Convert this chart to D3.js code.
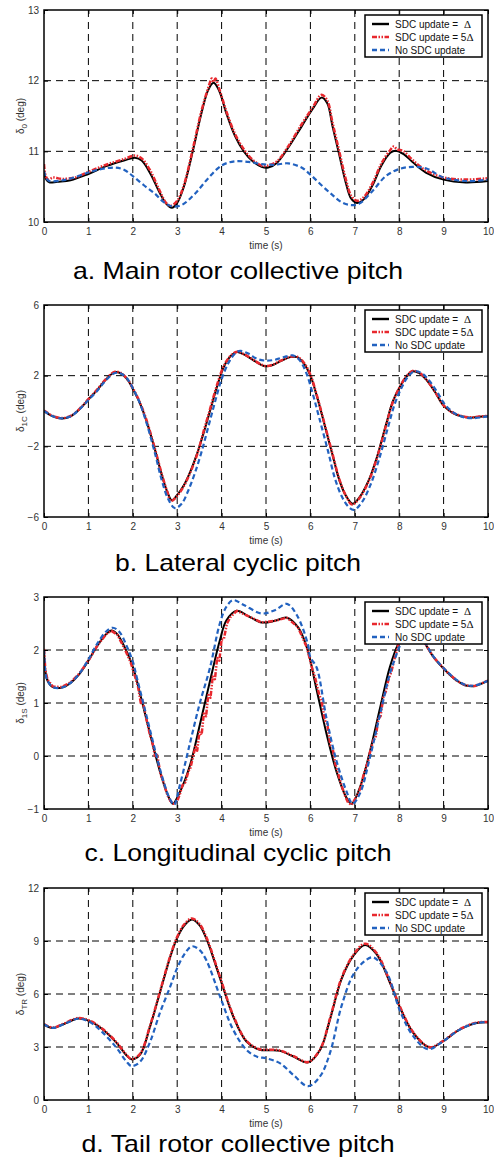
<!DOCTYPE html>
<html>
<head>
<meta charset="utf-8">
<script src="https://cdn.jsdelivr.net/npm/d3@7"></script>
<style>
  body { margin: 0; background: #fff; }
  svg { display: block; font-family: "Liberation Sans", Arial, sans-serif; }
</style>
</head>
<body>
<script>
// --- data: [time (s), angle (deg)] ---
const timeTicks = [0, 1, 2, 3, 4, 5, 6, 7, 8, 9, 10];
const legendLabels = ["SDC update = ", "SDC update = 5", "No SDC update"];

// a. main rotor collective
const aTicks = [10, 11, 12, 13];
const aBlack = [[0,10.72],[0.05,10.6],[0.12,10.56],[0.3,10.57],[0.6,10.59],[1,10.68],[1.4,10.79],[1.8,10.87],[2.05,10.91],[2.2,10.87],[2.4,10.68],[2.6,10.42],[2.75,10.26],[2.88,10.2],[3.0,10.27],[3.15,10.5],[3.35,11.0],[3.55,11.55],[3.7,11.87],[3.82,11.97],[3.95,11.85],[4.1,11.55],[4.3,11.22],[4.5,11.0],[4.7,10.86],[4.9,10.78],[5.05,10.77],[5.25,10.84],[5.5,11.05],[5.8,11.35],[6.05,11.6],[6.25,11.76],[6.38,11.68],[6.5,11.35],[6.65,10.95],[6.8,10.55],[6.92,10.33],[7.05,10.27],[7.2,10.32],[7.4,10.52],[7.6,10.8],[7.8,10.98],[7.92,11.01],[8.1,10.96],[8.3,10.85],[8.6,10.7],[9.0,10.6],[9.5,10.56],[10,10.58]];
const aRed = [[0,10.82],[0.04,10.65],[0.1,10.6],[0.2,10.63],[0.4,10.61],[0.7,10.63],[1,10.71],[1.4,10.81],[1.8,10.89],[2.05,10.94],[2.2,10.9],[2.4,10.72],[2.6,10.45],[2.75,10.27],[2.85,10.23],[3.0,10.3],[3.15,10.52],[3.35,11.03],[3.55,11.58],[3.7,11.9],[3.78,12.03],[3.82,11.98],[3.86,12.03],[3.95,11.88],[4.1,11.58],[4.3,11.25],[4.5,11.03],[4.7,10.88],[4.9,10.8],[5.05,10.8],[5.25,10.86],[5.5,11.07],[5.8,11.38],[6.05,11.62],[6.25,11.8],[6.38,11.72],[6.5,11.4],[6.65,11.0],[6.8,10.6],[6.92,10.37],[7.05,10.3],[7.2,10.35],[7.4,10.55],[7.6,10.83],[7.8,11.02],[7.88,11.07],[7.95,11.03],[8.1,11.0],[8.3,10.88],[8.6,10.73],[9.0,10.63],[9.5,10.6],[10,10.62]];
const aBlue = [[0,10.72],[0.05,10.62],[0.12,10.58],[0.5,10.6],[1,10.7],[1.3,10.75],[1.6,10.77],[1.8,10.74],[2.0,10.65],[2.25,10.52],[2.5,10.4],[2.7,10.28],[2.9,10.22],[3.1,10.24],[3.4,10.4],[3.7,10.62],[4.0,10.8],[4.3,10.86],[4.6,10.85],[4.9,10.82],[5.2,10.81],[5.5,10.83],[5.8,10.77],[6.0,10.67],[6.25,10.52],[6.5,10.38],[6.7,10.28],[6.9,10.24],[7.1,10.26],[7.4,10.44],[7.7,10.65],[8.0,10.75],[8.3,10.78],[8.6,10.76],[9.0,10.63],[9.5,10.58],[10,10.6]];

// b. lateral cyclic
const bTicks = [-6, -2, 2, 6];
const bBlack = [[0,0.0],[0.2,-0.3],[0.4,-0.42],[0.6,-0.3],[0.8,0.1],[1.0,0.65],[1.2,1.2],[1.4,1.8],[1.6,2.2],[1.75,2.1],[1.9,1.7],[2.0,1.25],[2.15,0.5],[2.3,-0.5],[2.5,-2.2],[2.65,-3.6],[2.78,-4.6],[2.88,-5.05],[3.0,-4.75],[3.15,-4.2],[3.3,-3.4],[3.45,-2.4],[3.6,-1.2],[3.75,0.1],[3.9,1.4],[4.05,2.5],[4.2,3.1],[4.35,3.34],[4.5,3.2],[4.7,2.9],[4.9,2.6],[5.0,2.53],[5.15,2.6],[5.35,2.85],[5.55,3.05],[5.7,3.05],[5.85,2.7],[6.0,2.0],[6.15,0.8],[6.3,-0.6],[6.5,-2.5],[6.65,-3.9],[6.8,-4.8],[6.95,-5.25],[7.1,-4.9],[7.3,-4.0],[7.5,-2.6],[7.7,-0.8],[7.85,0.5],[8.0,1.3],[8.15,1.9],[8.3,2.25],[8.45,2.15],[8.6,1.8],[8.8,1.1],[9.0,0.3],[9.2,-0.1],[9.4,-0.3],[9.6,-0.38],[9.8,-0.33],[10,-0.3]];
const bRed = [[0,0.02],[0.2,-0.28],[0.4,-0.4],[0.6,-0.28],[0.8,0.12],[1.0,0.67],[1.2,1.22],[1.4,1.82],[1.6,2.22],[1.75,2.12],[1.9,1.72],[2.0,1.3],[2.15,0.55],[2.3,-0.45],[2.5,-2.15],[2.65,-3.55],[2.78,-4.6],[2.86,-5.1],[3.0,-4.8],[3.15,-4.25],[3.3,-3.45],[3.45,-2.45],[3.6,-1.1],[3.75,0.2],[3.9,1.5],[4.05,2.55],[4.2,3.12],[4.35,3.36],[4.5,3.22],[4.7,2.92],[4.9,2.62],[5.0,2.55],[5.15,2.62],[5.35,2.87],[5.55,3.07],[5.7,3.07],[5.85,2.75],[6.0,2.05],[6.15,0.85],[6.3,-0.55],[6.5,-2.45],[6.65,-3.85],[6.8,-4.8],[6.94,-5.3],[7.1,-4.95],[7.3,-4.05],[7.5,-2.65],[7.7,-0.85],[7.85,0.45],[8.0,1.3],[8.15,1.92],[8.3,2.27],[8.45,2.17],[8.6,1.82],[8.8,1.12],[9.0,0.32],[9.2,-0.08],[9.4,-0.28],[9.6,-0.36],[9.8,-0.31],[10,-0.28]];
const bBlue = [[0,0.0],[0.2,-0.3],[0.4,-0.42],[0.6,-0.3],[0.8,0.1],[1.0,0.62],[1.2,1.15],[1.4,1.75],[1.6,2.15],[1.75,2.1],[1.9,1.75],[2.0,1.3],[2.15,0.5],[2.3,-0.6],[2.5,-2.4],[2.65,-3.9],[2.8,-5.0],[2.95,-5.5],[3.1,-5.25],[3.25,-4.5],[3.4,-3.5],[3.55,-2.3],[3.7,-0.9],[3.85,0.5],[4.0,1.8],[4.15,2.7],[4.3,3.25],[4.42,3.4],[4.6,3.25],[4.8,2.95],[5.0,2.85],[5.2,2.9],[5.4,3.05],[5.6,3.15],[5.75,2.9],[5.9,2.2],[6.05,1.0],[6.2,-0.4],[6.4,-2.3],[6.55,-3.8],[6.7,-4.8],[6.85,-5.4],[6.98,-5.6],[7.15,-5.2],[7.35,-4.2],[7.55,-2.7],[7.75,-0.9],[7.9,0.4],[8.05,1.3],[8.2,1.95],[8.35,2.25],[8.5,2.15],[8.65,1.8],[8.85,1.1],[9.05,0.3],[9.3,-0.2],[9.5,-0.38],[9.7,-0.4],[10,-0.3]];

// c. longitudinal cyclic
const cTicks = [-1, 0, 1, 2, 3];
const cBlack = [[0,2.0],[0.03,1.6],[0.08,1.42],[0.2,1.3],[0.4,1.29],[0.6,1.38],[0.8,1.55],[1.0,1.8],[1.2,2.08],[1.4,2.3],[1.52,2.37],[1.65,2.3],[1.8,2.08],[1.95,1.8],[2.05,1.55],[2.2,1.05],[2.35,0.55],[2.5,0.05],[2.65,-0.4],[2.78,-0.72],[2.9,-0.9],[3.06,-0.68],[3.29,-0.17],[3.51,0.59],[3.74,1.42],[3.96,2.18],[4.11,2.56],[4.34,2.74],[4.6,2.64],[4.9,2.52],[5.2,2.55],[5.47,2.61],[5.72,2.43],[5.92,2.05],[6.14,1.25],[6.36,0.43],[6.59,-0.3],[6.82,-0.8],[6.93,-0.9],[7.12,-0.58],[7.34,0.08],[7.57,0.91],[7.79,1.68],[7.98,2.12],[8.15,2.35],[8.3,2.42],[8.45,2.3],[8.6,2.1],[8.77,1.87],[9.07,1.59],[9.3,1.42],[9.5,1.33],[9.7,1.32],[10,1.42]];
const cRed = [[0,2.02],[0.03,1.62],[0.08,1.44],[0.2,1.31],[0.4,1.3],[0.6,1.39],[0.8,1.56],[1.0,1.8],[1.2,2.08],[1.4,2.3],[1.52,2.36],[1.65,2.29],[1.8,2.05],[1.95,1.77],[2.05,1.5],[2.12,1.3],[2.18,1.0],[2.22,1.05],[2.3,0.72],[2.38,0.42],[2.45,0.22],[2.5,0.0],[2.55,0.02],[2.62,-0.32],[2.7,-0.52],[2.78,-0.74],[2.85,-0.85],[2.92,-0.9],[3.0,-0.85],[3.06,-0.72],[3.12,-0.55],[3.18,-0.5],[3.25,-0.3],[3.3,-0.22],[3.36,0.0],[3.42,0.2],[3.45,0.1],[3.5,0.45],[3.55,0.4],[3.6,0.8],[3.65,0.75],[3.7,1.15],[3.75,1.1],[3.8,1.5],[3.85,1.45],[3.9,1.85],[3.95,1.8],[4.0,2.2],[4.05,2.2],[4.12,2.5],[4.2,2.62],[4.34,2.74],[4.6,2.64],[4.9,2.52],[5.2,2.55],[5.47,2.61],[5.72,2.43],[5.92,2.05],[6.05,1.62],[6.1,1.5],[6.2,1.15],[6.25,1.05],[6.32,0.68],[6.38,0.6],[6.45,0.2],[6.5,0.15],[6.56,-0.15],[6.62,-0.32],[6.7,-0.55],[6.78,-0.75],[6.85,-0.88],[6.93,-0.92],[7.05,-0.75],[7.12,-0.62],[7.2,-0.35],[7.25,-0.22],[7.3,-0.1],[7.35,0.1],[7.42,0.3],[7.47,0.35],[7.53,0.7],[7.58,0.75],[7.64,1.1],[7.7,1.22],[7.76,1.45],[7.82,1.58],[7.9,1.85],[7.98,2.1],[8.15,2.35],[8.3,2.42],[8.45,2.3],[8.6,2.1],[8.77,1.87],[9.07,1.59],[9.3,1.42],[9.5,1.33],[9.7,1.32],[10,1.42]];
const cBlue = [[0,2.0],[0.03,1.6],[0.08,1.42],[0.2,1.3],[0.4,1.29],[0.6,1.38],[0.8,1.56],[1.0,1.82],[1.2,2.12],[1.4,2.35],[1.55,2.42],[1.7,2.34],[1.85,2.1],[2.0,1.78],[2.1,1.45],[2.25,0.95],[2.4,0.45],[2.55,-0.05],[2.7,-0.5],[2.83,-0.8],[2.93,-0.92],[3.06,-0.55],[3.29,0.25],[3.51,1.0],[3.74,1.67],[3.96,2.5],[4.11,2.82],[4.26,2.94],[4.5,2.85],[4.9,2.69],[5.2,2.75],[5.47,2.87],[5.7,2.65],[5.94,2.12],[6.0,1.86],[6.14,1.67],[6.36,0.72],[6.59,-0.1],[6.82,-0.68],[6.95,-0.9],[7.12,-0.7],[7.34,-0.03],[7.57,0.79],[7.79,1.55],[8.0,2.05],[8.15,2.35],[8.3,2.44],[8.45,2.32],[8.6,2.12],[8.77,1.88],[9.07,1.6],[9.3,1.43],[9.5,1.34],[9.7,1.33],[10,1.42]];

// d. tail rotor collective
const dTicks = [0, 3, 6, 9, 12];
const dBlack = [[0,4.27],[0.2,4.08],[0.45,4.3],[0.77,4.61],[1.04,4.45],[1.33,3.98],[1.64,3.22],[1.85,2.55],[1.97,2.3],[2.16,2.55],[2.39,4.17],[2.61,6.07],[2.84,8.07],[2.99,9.12],[3.15,9.85],[3.33,10.21],[3.5,9.9],[3.66,9.12],[3.96,6.93],[4.26,4.74],[4.56,3.31],[4.86,2.84],[5.1,2.82],[5.32,2.78],[5.62,2.46],[5.95,2.13],[6.22,2.84],[6.44,4.55],[6.7,6.84],[6.97,8.17],[7.23,8.78],[7.49,8.26],[7.79,6.65],[8.02,5.22],[8.32,3.79],[8.69,2.97],[8.99,3.33],[9.36,3.98],[9.74,4.36],[10,4.4]];
const dRed = [[0,4.3],[0.2,4.1],[0.45,4.33],[0.77,4.64],[1.04,4.48],[1.33,4.0],[1.64,3.25],[1.85,2.58],[1.97,2.32],[2.16,2.6],[2.39,4.22],[2.61,6.12],[2.84,8.12],[2.99,9.18],[3.15,9.92],[3.33,10.28],[3.5,9.97],[3.66,9.2],[3.96,7.0],[4.26,4.8],[4.56,3.35],[4.86,2.87],[5.1,2.85],[5.32,2.8],[5.62,2.48],[5.95,2.15],[6.22,2.88],[6.44,4.6],[6.7,6.9],[6.97,8.22],[7.23,8.85],[7.49,8.32],[7.79,6.7],[8.02,5.27],[8.32,3.82],[8.69,2.99],[8.99,3.35],[9.36,4.0],[9.74,4.38],[10,4.42]];
const dBlue = [[0,4.27],[0.2,4.08],[0.45,4.3],[0.77,4.6],[1.04,4.4],[1.33,3.8],[1.64,2.93],[1.85,2.2],[1.97,1.92],[2.16,2.15],[2.39,3.3],[2.61,4.93],[2.84,6.4],[2.99,7.41],[3.15,8.2],[3.33,8.7],[3.5,8.5],[3.66,7.89],[3.96,5.89],[4.26,3.98],[4.56,2.84],[4.8,2.45],[5.01,2.36],[5.32,2.07],[5.62,1.41],[5.95,0.78],[6.22,1.35],[6.44,2.65],[6.7,5.31],[6.97,7.12],[7.23,7.88],[7.42,8.07],[7.72,7.21],[8.02,5.03],[8.32,3.6],[8.65,2.87],[8.99,3.33],[9.36,3.98],[9.74,4.36],[10,4.4]];

// --- layout ---
const W = 494, H = 1157;
const left = 44, right = 488, ph = 212;

const panels = [
  { top: 10,  ticks: aTicks, sub: "0",  series: [aBlack, aRed, aBlue], title: "a. Main rotor collective pitch", titleY: 279, titleW: 330 },
  { top: 305, ticks: bTicks, sub: "1C", series: [bBlack, bRed, bBlue], title: "b. Lateral cyclic pitch", titleY: 571, titleW: 246 },
  { top: 597, ticks: cTicks, sub: "1S", series: [cBlack, cRed, cBlue], title: "c. Longitudinal cyclic pitch", titleY: 861, titleW: 307 },
  { top: 888, ticks: dTicks, sub: "TR", series: [dBlack, dRed, dBlue], title: "d. Tail rotor collective pitch", titleY: 1152, titleW: 313 }
];

const styles = [
  { color: "#000000", width: 2,   dash: null },
  { color: "#e8282e", width: 2.5, dash: "5,1.5,1.5,1.5,1.5,1.5" },
  { color: "#2262c0", width: 2.2, dash: "5,3" }
];

const svg = d3.select("body").append("svg")
  .attr("width", W).attr("height", H);

panels.forEach((p, pi) => {
  const x = d3.scaleLinear().domain([0, 10]).range([left, right]);
  const y = d3.scaleLinear().domain(d3.extent(p.ticks)).range([p.top + ph, p.top]);
  const g = svg.append("g");

  const clipId = "clip" + pi;
  g.append("clipPath").attr("id", clipId)
    .append("rect").attr("x", left).attr("y", p.top).attr("width", right - left).attr("height", ph);

  // dashed grid
  g.append("g").selectAll("line")
    .data(timeTicks.slice(1, -1))
    .join("line")
    .attr("x1", d => x(d)).attr("x2", d => x(d))
    .attr("y1", p.top).attr("y2", p.top + ph)
    .attr("stroke", "#000").attr("stroke-width", 1).attr("stroke-dasharray", "7,5");
  g.append("g").selectAll("line")
    .data(p.ticks.slice(1, -1))
    .join("line")
    .attr("y1", d => y(d)).attr("y2", d => y(d))
    .attr("x1", left).attr("x2", right)
    .attr("stroke", "#000").attr("stroke-width", 1).attr("stroke-dasharray", "7,5");

  // curves
  const line = d3.line().x(d => x(d[0])).y(d => y(d[1]));
  p.series.forEach((s, si) => {
    const st = styles[si];
    g.append("path")
      .datum(s)
      .attr("clip-path", `url(#${clipId})`)
      .attr("fill", "none")
      .attr("stroke", st.color)
      .attr("stroke-width", st.width)
      .attr("stroke-linejoin", "round")
      .attr("stroke-dasharray", st.dash)
      .attr("d", line.curve(si === 1 && pi === 2 ? d3.curveLinear : d3.curveCatmullRom.alpha(0.5)));
  });

  // axes (ticks inside, like the original)
  const xAxis = g.append("g").attr("transform", `translate(0,${p.top + ph})`)
    .call(d3.axisBottom(x).tickValues(timeTicks).tickSize(-4).tickPadding(6).tickFormat(d3.format("d")));
  const yAxis = g.append("g").attr("transform", `translate(${left},0)`)
    .call(d3.axisLeft(y).tickValues(p.ticks).tickSize(-4).tickPadding(5).tickFormat(d3.format("d")));
  g.append("g").attr("transform", `translate(0,${p.top})`)
    .call(d3.axisTop(x).tickValues(timeTicks).tickSize(-4).tickFormat(""));
  g.append("g").attr("transform", `translate(${right},0)`)
    .call(d3.axisRight(y).tickValues(p.ticks).tickSize(-4).tickFormat(""));
  g.selectAll(".domain").remove();
  g.selectAll(".tick line").attr("stroke", "#000");
  [xAxis, yAxis].forEach(a => a.selectAll("text")
    .attr("font-size", 10).attr("fill", "#333").attr("font-family", "Liberation Sans, Arial, sans-serif"));

  g.append("rect")
    .attr("x", left).attr("y", p.top).attr("width", right - left).attr("height", ph)
    .attr("fill", "none").attr("stroke", "#000").attr("stroke-width", 1.5);

  // axis labels
  g.append("text")
    .attr("x", (left + right) / 2).attr("y", p.top + ph + 27)
    .attr("text-anchor", "middle").attr("font-size", 10).attr("fill", "#333")
    .text("time (s)");

  const yl = g.append("text")
    .attr("transform", `translate(24,${p.top + ph / 2}) rotate(-90)`)
    .attr("text-anchor", "middle").attr("font-size", 10).attr("fill", "#333");
  yl.append("tspan").text("δ");
  yl.append("tspan").attr("font-size", 8).attr("dy", 3).text(p.sub);
  yl.append("tspan").attr("dy", -3).text(" (deg)");

  // legend
  const lx = 365, ly = p.top + 5;
  const lg = g.append("g");
  lg.append("rect").attr("x", lx).attr("y", ly).attr("width", 117).attr("height", 42)
    .attr("fill", "#fff").attr("stroke", "#000").attr("stroke-width", 1.5);
  legendLabels.forEach((lab, i) => {
    const st = styles[i];
    const ry = ly + 9 + i * 13;
    lg.append("line").attr("x1", lx + 7).attr("x2", lx + 24).attr("y1", ry).attr("y2", ry)
      .attr("stroke", st.color).attr("stroke-width", 2.4).attr("stroke-dasharray", st.dash);
    const t = lg.append("text").attr("x", lx + 30).attr("y", ry + 3.5)
      .attr("font-size", 10).attr("fill", "#111");
    t.append("tspan").text(lab);
    if (i === 0) t.append("tspan").attr("x", lx + 99).attr("font-family", "Liberation Serif, serif").attr("font-size", 11).text("Δ");
    if (i === 1) t.append("tspan").attr("font-family", "Liberation Serif, serif").attr("font-size", 11).text("Δ");
  });

  // caption
  svg.append("text")
    .attr("x", 238).attr("y", p.titleY)
    .attr("text-anchor", "middle")
    .attr("font-size", 24)
    .attr("textLength", p.titleW).attr("lengthAdjust", "spacingAndGlyphs")
    .attr("fill", "#000")
    .text(p.title);
});
</script>
</body>
</html>
